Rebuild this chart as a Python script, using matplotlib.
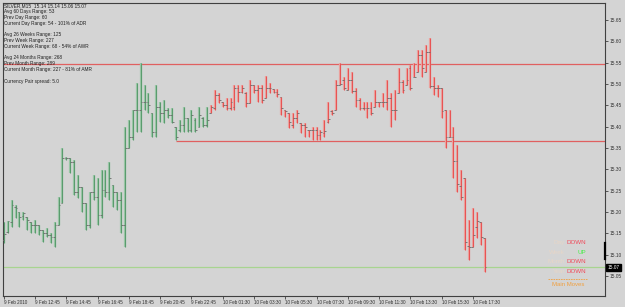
import numpy as np
import matplotlib.pyplot as plt
from matplotlib.transforms import blended_transform_factory

# ---- data (SILVER, M15 bars) ----
opens = [15.134, 15.152, 15.176, 15.211, 15.199, 15.190, 15.188, 15.176, 15.169, 15.169,
         15.157, 15.150, 15.145, 15.141, 15.169, 15.221, 15.326, 15.326, 15.317, 15.246,
         15.258, 15.221, 15.169, 15.246, 15.235, 15.192, 15.251, 15.246, 15.263, 15.246,
         15.228, 15.169, 15.350, 15.375, 15.439, 15.439, 15.458, 15.458, 15.432, 15.387,
         15.446, 15.432, 15.439, 15.427, 15.399, 15.392, 15.404, 15.420, 15.392, 15.415,
         15.399, 15.420, 15.404, 15.432, 15.444, 15.474, 15.458, 15.451, 15.444, 15.446,
         15.490, 15.481, 15.479, 15.455, 15.497, 15.486, 15.490, 15.467, 15.490, 15.488,
         15.481, 15.469, 15.439, 15.432, 15.404, 15.420, 15.408, 15.404, 15.392, 15.392,
         15.392, 15.380, 15.385, 15.411, 15.436, 15.439, 15.497, 15.509, 15.486, 15.509,
         15.484, 15.462, 15.444, 15.444, 15.444, 15.446, 15.458, 15.458, 15.458, 15.467,
         15.439, 15.479, 15.504, 15.497, 15.537, 15.516, 15.528, 15.567, 15.528, 15.574,
         15.495, 15.490, 15.490, 15.439, 15.375, 15.375, 15.320, 15.262, 15.279, 15.120,
         15.117, 15.165, 15.176, 15.140]
highs = [15.176, 15.178, 15.228, 15.216, 15.199, 15.199, 15.188, 15.176, 15.181, 15.169,
         15.157, 15.162, 15.150, 15.176, 15.235, 15.350, 15.329, 15.326, 15.321, 15.286,
         15.258, 15.221, 15.246, 15.286, 15.279, 15.298, 15.298, 15.317, 15.263, 15.246,
         15.246, 15.399, 15.415, 15.439, 15.502, 15.549, 15.497, 15.479, 15.432, 15.497,
         15.458, 15.462, 15.444, 15.444, 15.399, 15.415, 15.446, 15.420, 15.439, 15.420,
         15.446, 15.422, 15.446, 15.451, 15.486, 15.479, 15.458, 15.467, 15.467, 15.497,
         15.497, 15.497, 15.481, 15.509, 15.497, 15.497, 15.497, 15.519, 15.502, 15.488,
         15.488, 15.469, 15.439, 15.432, 15.432, 15.439, 15.408, 15.408, 15.392, 15.399,
         15.399, 15.392, 15.415, 15.458, 15.439, 15.509, 15.549, 15.516, 15.537, 15.528,
         15.490, 15.467, 15.458, 15.458, 15.458, 15.486, 15.458, 15.479, 15.509, 15.479,
         15.486, 15.537, 15.509, 15.537, 15.544, 15.549, 15.580, 15.580, 15.591, 15.608,
         15.516, 15.497, 15.490, 15.439, 15.439, 15.399, 15.357, 15.298, 15.279, 15.181,
         15.209, 15.199, 15.176, 15.140]
lows = [15.127, 15.150, 15.164, 15.185, 15.164, 15.181, 15.157, 15.150, 15.150, 15.145,
        15.129, 15.141, 15.127, 15.117, 15.169, 15.221, 15.321, 15.291, 15.239, 15.232,
        15.199, 15.157, 15.162, 15.228, 15.169, 15.185, 15.235, 15.228, 15.211, 15.204,
        15.150, 15.117, 15.350, 15.368, 15.387, 15.387, 15.439, 15.432, 15.375, 15.375,
        15.411, 15.408, 15.420, 15.408, 15.368, 15.387, 15.387, 15.387, 15.387, 15.387,
        15.399, 15.399, 15.399, 15.432, 15.439, 15.455, 15.446, 15.439, 15.439, 15.439,
        15.458, 15.479, 15.446, 15.455, 15.479, 15.458, 15.455, 15.467, 15.479, 15.479,
        15.469, 15.427, 15.422, 15.397, 15.397, 15.408, 15.385, 15.375, 15.375, 15.368,
        15.368, 15.368, 15.375, 15.408, 15.427, 15.439, 15.497, 15.486, 15.486, 15.479,
        15.446, 15.439, 15.439, 15.420, 15.427, 15.446, 15.446, 15.446, 15.439, 15.399,
        15.415, 15.479, 15.479, 15.497, 15.486, 15.516, 15.528, 15.516, 15.528, 15.490,
        15.474, 15.469, 15.420, 15.350, 15.375, 15.279, 15.246, 15.228, 15.110, 15.087,
        15.117, 15.138, 15.122, 15.060]
closes = [15.148, 15.178, 15.216, 15.209, 15.188, 15.197, 15.181, 15.169, 15.169, 15.157,
          15.150, 15.145, 15.141, 15.169, 15.216, 15.326, 15.326, 15.317, 15.246, 15.258,
          15.221, 15.169, 15.246, 15.235, 15.192, 15.251, 15.246, 15.279, 15.246, 15.228,
          15.169, 15.350, 15.375, 15.439, 15.439, 15.458, 15.458, 15.451, 15.387, 15.446,
          15.432, 15.439, 15.427, 15.411, 15.375, 15.404, 15.420, 15.392, 15.427, 15.392,
          15.427, 15.404, 15.415, 15.446, 15.474, 15.462, 15.451, 15.444, 15.458, 15.490,
          15.481, 15.490, 15.455, 15.497, 15.486, 15.490, 15.462, 15.490, 15.490, 15.481,
          15.476, 15.444, 15.436, 15.411, 15.420, 15.432, 15.404, 15.399, 15.392, 15.392,
          15.380, 15.387, 15.389, 15.418, 15.432, 15.497, 15.500, 15.490, 15.509, 15.484,
          15.462, 15.444, 15.444, 15.444, 15.432, 15.458, 15.458, 15.458, 15.467, 15.439,
          15.439, 15.504, 15.486, 15.509, 15.490, 15.516, 15.567, 15.537, 15.574, 15.495,
          15.490, 15.490, 15.436, 15.375, 15.376, 15.319, 15.265, 15.235, 15.129, 15.117,
          15.147, 15.180, 15.141, 15.070]
n_green = 53  # bars drawn in green before the color switch

xlabels = ["9 Feb 2010", "9 Feb 12:45", "9 Feb 14:45", "9 Feb 16:45", "9 Feb 18:45",
           "9 Feb 20:45", "9 Feb 22:45", "10 Feb 01:30", "10 Feb 03:30", "10 Feb 05:30",
           "10 Feb 07:30", "10 Feb 09:30", "10 Feb 11:30", "10 Feb 13:30", "10 Feb 15:30",
           "10 Feb 17:30"]
yticks = [15.05, 15.10, 15.15, 15.20, 15.25, 15.30, 15.35, 15.40, 15.45, 15.50, 15.55, 15.60, 15.65]

level_top = 15.548
level_mid = 15.366
level_mid_start = 44
last_price = 15.07

info_lines = ["SILVER,M15  15.14 15.14 15.06 15.07",
              "Avg 60 Days Range: 53", "Prev Day Range: 60", "Current Day Range: 54 - 101% of ADR",
              "Avg 26 Weeks Range: 125", "Prev Week Range: 227", "Current Week Range: 68 - 54% of AWR",
              "Avg 24 Months Range: 268", "Prev Month Range: 289", "Current Month Range: 227 - 81% of AMR",
              "Currency Pair spread: 5.0"]
info_y = [6, 11, 17, 23.5, 34.5, 40.5, 46.5, 57.5, 63.5, 70, 81]

moves_names = ["Day", "Week", "Month", "Year"]
moves_dirs = ["DOWN", "UP", "DOWN", "DOWN"]

# ---- figure ----
W, H = 625, 307
bg = '#d4d4d4'
fig = plt.figure(figsize=(W / 100, H / 100), dpi=100, facecolor=bg)
plt.rcParams['font.family'] = ['Liberation Sans', 'DejaVu Sans']
ax = fig.add_axes([3 / W, 11 / H, 602 / W, 293 / H], facecolor=bg)

idx = np.arange(len(opens))
step = 3.91
ax.set_xlim(-0.2, -0.2 + 602 / step)
ax.set_ylim(15.003, 15.690)

# soft wide stroke under a thin line, like the reference rendering
soft = ['#9cc8a8' if i < n_green else '#eca4a0' for i in idx]
cols = ['#5a9c6e' if i < n_green else '#e85454' for i in idx]
ax.vlines(idx, lows, highs, colors=soft, linewidth=1.6, zorder=2.5)
ax.vlines(idx, lows, highs, colors=cols, linewidth=0.8, zorder=3)
ax.hlines(opens, idx - 0.45, idx, colors='#6a6a6a', linewidth=0.6, zorder=4)
ax.hlines(closes, idx, idx + 0.45, colors='#6a6a6a', linewidth=0.6, zorder=4)

# levels
ax.axhline(level_top, color='#e06060', linewidth=0.9, zorder=2)
ax.hlines(level_mid, level_mid_start, 200, colors='#e06060', linewidth=0.9, zorder=2)
ax.axhline(last_price, color='#a8d490', linewidth=0.9, zorder=2)

# axes styling
for s in ax.spines.values():
    s.set_color('#404040')
    s.set_linewidth(0.8)
ax.yaxis.tick_right()
ax.set_yticks(yticks)
ax.set_yticklabels(['%.2f' % v for v in yticks])
ax.tick_params(axis='y', length=2, width=0.6, pad=1, labelsize=3.4, color='#404040', labelcolor='#303030')
ax.set_xticks(np.arange(len(xlabels)) * 8)
ax.set_xticklabels(xlabels, ha='left')
ax.tick_params(axis='x', length=2, width=0.6, pad=1, labelsize=3.3, color='#404040', labelcolor='#303030')

# thick segment on price scale
trans = blended_transform_factory(ax.transAxes, ax.transData)
ax.plot([1.0, 1.0], [15.127, 15.09], transform=trans, color='black', linewidth=1.6,
        clip_on=False, zorder=5)

# current price box
ax.text(1.004, last_price, '%.2f' % last_price, transform=trans, fontsize=3.4,
        color='white', va='center', ha='left',
        bbox=dict(boxstyle='square,pad=0.25', facecolor='black', edgecolor='black'))

# info text block
for txt, yy in zip(info_lines, info_y):
    fig.text(4.5 / W, 1 - yy / H, txt, fontsize=3.4, color='#202020', va='center', ha='left')

# main moves block
move_y = [242.5, 252.3, 261.7, 271.5]
for name, d, yy in zip(moves_names, moves_dirs, move_y):
    fig.text(565 / W, 1 - yy / H, name, fontsize=4.5, color='#e6d6c8', va='center', ha='right')
    fig.text(586 / W, 1 - yy / H, d, fontsize=4.5, va='center', ha='right',
             color='#44ee44' if d == 'UP' else '#f04a5a')
fig.add_artist(plt.Line2D([548 / W, 587 / W], [1 - 279 / H, 1 - 279 / H], color='#f0a040',
                          linewidth=0.6, linestyle=(0, (2, 1))))
fig.text(568 / W, 1 - 284 / H, 'Main Moves', fontsize=4.3, color='#f0a040', va='center', ha='center')

fig.savefig('out.png', dpi=100, facecolor=bg)
